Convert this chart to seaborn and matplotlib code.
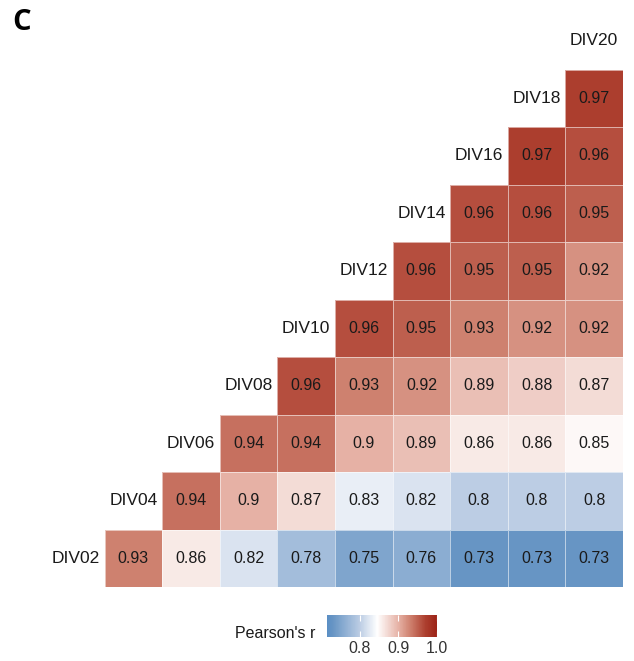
import matplotlib
matplotlib.use("Agg")
import matplotlib.pyplot as plt
import numpy as np
import pandas as pd
import seaborn as sns
from matplotlib.colors import LinearSegmentedColormap

# variables (bottom-left to top-right along the diagonal)
divs = ["DIV02", "DIV04", "DIV06", "DIV08", "DIV10",
        "DIV12", "DIV14", "DIV16", "DIV18", "DIV20"]

# Pearson's r of each DIV with every later DIV
r_div02 = [0.93, 0.86, 0.82, 0.78, 0.75, 0.76, 0.73, 0.73, 0.73]
r_div04 = [0.94, 0.90, 0.87, 0.83, 0.82, 0.80, 0.80, 0.80]
r_div06 = [0.94, 0.94, 0.90, 0.89, 0.86, 0.86, 0.85]
r_div08 = [0.96, 0.93, 0.92, 0.89, 0.88, 0.87]
r_div10 = [0.96, 0.95, 0.93, 0.92, 0.92]
r_div12 = [0.96, 0.95, 0.95, 0.92]
r_div14 = [0.96, 0.96, 0.95]
r_div16 = [0.97, 0.96]
r_div18 = [0.97]

cbar_ticks = [0.8, 0.9, 1.0]

rows = [r_div02, r_div04, r_div06, r_div08, r_div10,
        r_div12, r_div14, r_div16, r_div18]

n = len(divs)
mat = np.full((n, n), np.nan)
for i, vals in enumerate(rows):
    for k, v in enumerate(vals):
        mat[i, i + 1 + k] = v

# top row = DIV20, bottom row = DIV02
df = pd.DataFrame(mat[::-1], index=divs[::-1], columns=divs)
mask = df.isna()
annot = df.map(lambda v: "" if np.isnan(v) else f"{round(v, 2):g}")

vmin, vmax = 0.715, 1.0
stops = [
    (0.715, "#5a8ec4"),
    (0.73, "#6795c4"),
    (0.80, "#bccde4"),
    (0.845, "#ffffff"),
    (0.90, "#e6b2a6"),
    (0.93, "#cf8270"),
    (0.97, "#ad3f2f"),
    (1.0, "#9c2317"),
]
cmap = LinearSegmentedColormap.from_list(
    "pearson", [((v - vmin) / (vmax - vmin), c) for v, c in stops])

plt.rcParams["font.family"] = ["Liberation Sans", "DejaVu Sans"]

fig = plt.figure(figsize=(6.34, 6.61), dpi=100)
ax = fig.add_axes([47 / 634, 1 - 587 / 661, 576 / 634, 575 / 661])
cax = fig.add_axes([327 / 634, 1 - 637 / 661, 110 / 634, 22 / 661])

sns.heatmap(df, mask=mask, ax=ax, cmap=cmap, vmin=vmin, vmax=vmax,
            annot=annot, fmt="", annot_kws={"size": 11.5, "color": "#1a1a1a"},
            linewidths=0.7, linecolor=(1, 1, 1, 0.55), square=False,
            cbar_ax=cax, cbar_kws={"orientation": "horizontal", "ticks": cbar_ticks})

# variable names on the diagonal
for i, name in enumerate(divs):
    ax.text(i + 0.5, n - 1 - i + 0.5, name, ha="center", va="center",
            fontsize=12.5, color="#1a1a1a")

ax.set_xticks([])
ax.set_yticks([])
ax.set_xlabel("")
ax.set_ylabel("")
for s in ax.spines.values():
    s.set_visible(False)

cbar = ax.collections[0].colorbar
cbar.outline.set_visible(False)
cax.set_xticks(cbar_ticks)
cax.set_xticklabels([f"{t:.1f}" for t in cbar_ticks])
cax.tick_params(axis="x", direction="in", length=4, width=0.8, color="white",
                top=True, bottom=True, labelsize=11.5, labelcolor="#333333", pad=3)

fig.text(315 / 634, 1 - 634 / 661, "Pearson's r", ha="right", va="center",
         fontsize=11.5, color="#1a1a1a")
fig.text(12 / 634, 1 - 23 / 661, "C", ha="left", va="center",
         fontsize=21, fontweight="bold", family=["Open Sans", "DejaVu Sans"])

fig.savefig("out.png", dpi=100)
